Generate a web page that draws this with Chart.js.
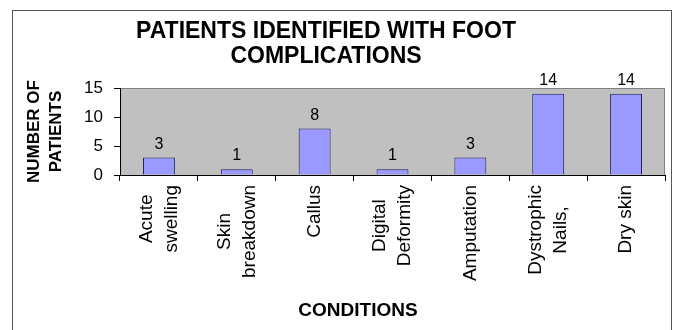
<!DOCTYPE html>
<html>
<head>
<meta charset="utf-8">
<title>Patients identified with foot complications</title>
<script src="https://cdn.jsdelivr.net/npm/chart.js@4/dist/chart.umd.min.js"></script>
<style>
  html, body { margin: 0; padding: 0; background: #fff; }
  #wrap { position: relative; width: 680px; height: 330px; }
</style>
</head>
<body>
<div id="wrap"><canvas id="chartFoot"></canvas></div>
<script>
// ==================== DATA ====================
const conditions = [
  ["Acute", "swelling"],
  ["Skin", "breakdown"],
  ["Callus"],
  ["Digital", "Deformity"],
  ["Amputation"],
  ["Dystrophic", "Nails,"],
  ["Dry skin"]
];
const patients = [3, 1, 8, 1, 3, 14, 14];
const yTicks = [0, 5, 10, 15];

const titleLines = ["PATIENTS IDENTIFIED WITH FOOT", "COMPLICATIONS"];
const xTitle = "CONDITIONS";
const yTitle = ["NUMBER OF", "PATIENTS"];

const FONT = "'Liberation Sans', Arial, Helvetica, sans-serif";
Chart.defaults.font.family = FONT;
Chart.defaults.color = "#000";

// ==================== PLUGINS ====================
// frame + grey plot area
const backdrop = {
  id: "backdrop",
  beforeDraw(chart) {
    const { ctx, chartArea: a } = chart;
    ctx.save();
    ctx.strokeStyle = "#555";
    ctx.lineWidth = 1;
    ctx.strokeRect(12.5, 10.5, 659, 340);
    ctx.fillStyle = "#C0C0C0";
    ctx.fillRect(a.left, a.top, a.right - a.left, a.bottom - a.top);
    ctx.strokeStyle = "#808080";
    ctx.strokeRect(a.left + 0.5, a.top + 0.5, a.right - a.left - 1, a.bottom - a.top);
    ctx.restore();
  }
};

// values above bars
const valueLabels = {
  id: "valueLabels",
  afterDatasetsDraw(chart) {
    const { ctx } = chart;
    const meta = chart.getDatasetMeta(0);
    ctx.save();
    ctx.font = `16px ${FONT}`;
    ctx.fillStyle = "#000";
    ctx.textAlign = "center";
    ctx.textBaseline = "alphabetic";
    meta.data.forEach((bar, i) => {
      ctx.fillText(String(patients[i]), bar.x, bar.y - 9);
    });
    ctx.restore();
  }
};

// titles + vertical category labels (lines centred like the original)
const textLayer = {
  id: "textLayer",
  afterDraw(chart) {
    const { ctx } = chart;
    const x = chart.scales.x;
    ctx.save();
    ctx.fillStyle = "#000";

    ctx.font = `bold 23px ${FONT}`;
    ctx.textAlign = "center";
    ctx.textBaseline = "alphabetic";
    ctx.fillText(titleLines[0], 326, 38);
    ctx.fillText(titleLines[1], 326, 63);

    ctx.font = `bold 19px ${FONT}`;
    ctx.fillText(xTitle, 358, 316);

    ctx.font = `19px ${FONT}`;
    ctx.textBaseline = "middle";
    const top = x.top + 10;
    const lh = 25;
    conditions.forEach((lines, i) => {
      const px = x.getPixelForValue(i);
      const w = Math.max(...lines.map(l => ctx.measureText(l).width));
      ctx.save();
      ctx.translate(px, top + w / 2);
      ctx.rotate(-Math.PI / 2);
      lines.forEach((l, j) => {
        ctx.fillText(l, 0, (j - (lines.length - 1) / 2) * lh);
      });
      ctx.restore();
    });
    ctx.restore();
  }
};

// ==================== CHART ====================
const ctx = document.getElementById("chartFoot").getContext("2d");
new Chart(ctx, {
  type: "bar",
  data: {
    labels: conditions,
    datasets: [{
      label: "Number of patients",
      data: patients,
      backgroundColor: "#9999FF",
      borderColor: "#1c1c5c",
      borderWidth: 1,
      borderSkipped: "bottom",
      barPercentage: 0.41,
      categoryPercentage: 1
    }]
  },
  options: {
    responsive: true,
    maintainAspectRatio: false,
    animation: false,
    layout: { padding: { top: 88, left: 14, right: 15, bottom: 0 } },
    plugins: {
      legend: { display: false },
      tooltip: { enabled: false }
    },
    scales: {
      x: {
        grid: { offset: true, drawOnChartArea: false, drawTicks: true, tickLength: 6, color: "#000" },
        border: { color: "#000", width: 1 },
        ticks: { display: false },
        afterFit(scale) { scale.height = 155; }
      },
      y: {
        min: yTicks[0],
        max: yTicks[yTicks.length - 1],
        afterBuildTicks(scale) { scale.ticks = yTicks.map(v => ({ value: v })); },
        grid: { drawOnChartArea: false, drawTicks: true, tickLength: 6, color: "#000" },
        border: { color: "#000", width: 1 },
        ticks: { font: { size: 17 }, padding: 11, color: "#000" },
        title: {
          display: true,
          text: yTitle,
          font: { size: 17, weight: "bold", lineHeight: 1.25 },
          padding: { top: 10, bottom: 0 },
          color: "#000"
        },
        afterFit(scale) { scale.width = 106; }
      }
    }
  },
  plugins: [backdrop, valueLabels, textLayer]
});
</script>
</body>
</html>
